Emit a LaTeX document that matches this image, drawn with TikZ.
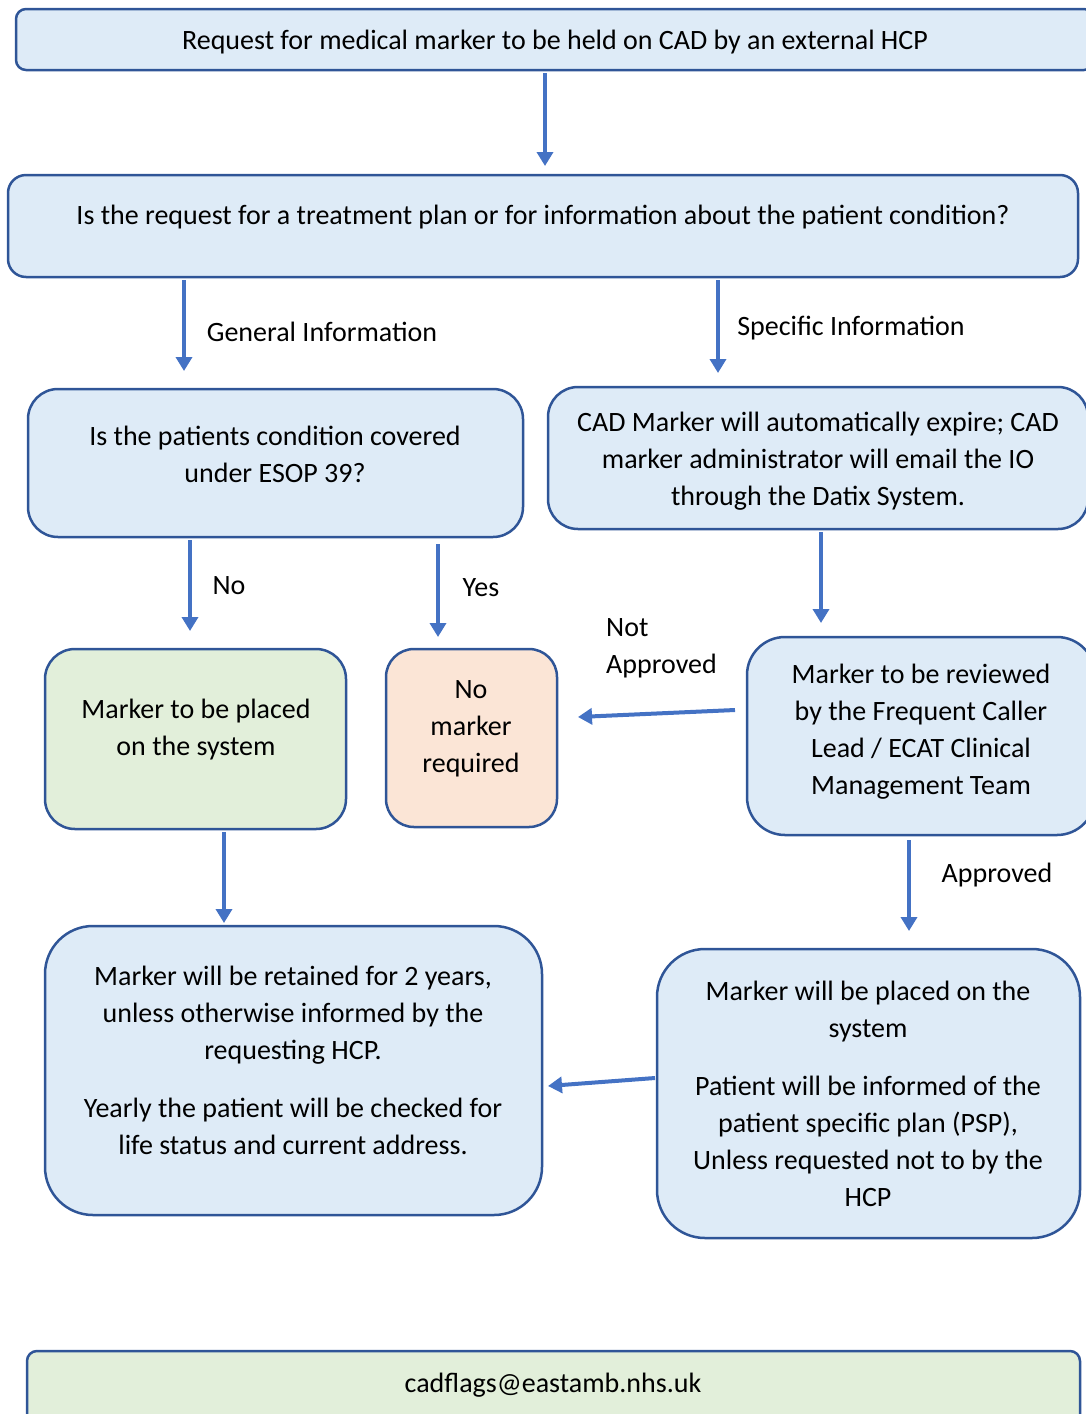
\documentclass[tikz,border=0pt]{standalone}
\usepackage{fontspec}
\setmainfont{Carlito}
\usetikzlibrary{arrows.meta}
\definecolor{boxblue}{HTML}{DEEBF7}
\definecolor{boxgreen}{HTML}{E2EFDA}
\definecolor{boxpeach}{HTML}{FBE5D6}
\definecolor{edgeblue}{HTML}{2F5597}
\definecolor{arrowblue}{HTML}{4472C4}
\tikzset{
  box/.style={draw=edgeblue, line width=2.5pt, fill=boxblue, inner sep=0pt, rectangle},
  txt/.style={align=center, inner sep=0pt, font=\fontsize{28}{37}\selectfont},
  lbl/.style={inner sep=0pt, font=\fontsize{28}{37}\selectfont},
  arr/.style={draw=arrowblue, line width=4pt, -{Triangle[length=14pt,width=16pt]}},
}
\begin{document}
\begin{tikzpicture}[x=1pt,y=-1pt]
\useasboundingbox (0,0) rectangle (1086,1414);
\clip (0,0) rectangle (1086,1414);
% boxes
\node[box, rounded corners=10pt, minimum width=1078pt, minimum height=61pt] (b1) at (555,39.5) {};
\node[box, rounded corners=18pt, minimum width=1070pt, minimum height=102pt] (b2) at (543,226) {};
\node[box, rounded corners=30pt, minimum width=495pt, minimum height=148pt] (b3) at (275.5,463) {};
\node[box, rounded corners=30pt, minimum width=540pt, minimum height=142pt] (b4) at (818,458) {};
\node[box, fill=boxgreen, rounded corners=30pt, minimum width=301pt, minimum height=180pt] (b5) at (195.5,739) {};
\node[box, fill=boxpeach, rounded corners=28pt, minimum width=171pt, minimum height=178pt] (b6) at (471.5,738) {};
\node[box, rounded corners=38pt, minimum width=348pt, minimum height=198pt] (b7) at (921,736) {};
\node[box, rounded corners=48pt, minimum width=497pt, minimum height=289pt] (b8) at (293.5,1070.5) {};
\node[box, rounded corners=48pt, minimum width=423pt, minimum height=289pt] (b9) at (868.5,1093.5) {};
\node[box, fill=boxgreen, rounded corners=10pt, minimum width=1053pt, minimum height=89pt] (b10) at (553.5,1395.5) {};
% texts
\node[txt] (t1) at (555,42) {Request for medical marker to be held on CAD by an external HCP};
\node[txt] (t2) at (543,217) {Is the request for a treatment plan or for information about the patient condition?};
\node[txt] (t3) at (275,454) {Is the patients condition covered\\under ESOP 39?};
\node[txt] (t4) at (818,461) {CAD Marker will automatically expire; CAD\\marker administrator will email the IO\\through the Datix System.};
\node[txt] (t5) at (196,730) {Marker to be placed\\on the system};
\node[txt] (t6) at (471,729) {No\\marker\\required};
\node[txt] (t7) at (921,732) {Marker to be reviewed\\by the Frequent Caller\\Lead / ECAT Clinical\\Management Team};
\node[txt] (t8) at (293,1060) {Marker will be retained for 2 years,\\unless otherwise informed by the\\requesting HCP.\\[21pt]Yearly the patient will be checked for\\life status and current address.};
\node[txt] (t9) at (868,1093.5) {Marker will be placed on the\\system\\[21pt]Patient will be informed of the\\patient specific plan (PSP),\\Unless requested not to by the\\HCP};
\node[txt] (t10) at (553,1385) {cadflags@eastamb.nhs.uk};
% labels
\node[lbl] (l1) at (322,332) {General Information};
\node[lbl] (l2) at (851,328) {Specific Information};
\node[lbl] (l3) at (229,586) {No};
\node[lbl] (l4) at (481,588) {Yes};
\node[lbl, align=left, anchor=west] (l5) at (606,648.5) {Not\\Approved};
\node[lbl] (l6) at (997,875) {Approved};
% arrow end points
\coordinate (a1s) at (545,73);   \coordinate (a1e) at (545,166);
\coordinate (a2s) at (184,280);  \coordinate (a2e) at (184,371);
\coordinate (a3s) at (718,280);  \coordinate (a3e) at (718,373);
\coordinate (a4s) at (190,540);  \coordinate (a4e) at (190,631);
\coordinate (a5s) at (438,544);  \coordinate (a5e) at (438,637);
\coordinate (a6s) at (821,532);  \coordinate (a6e) at (821,623);
\coordinate (a7s) at (735,710);  \coordinate (a7e) at (578,717);
\coordinate (a8s) at (224,832);  \coordinate (a8e) at (224,923);
\coordinate (a9s) at (909,840);  \coordinate (a9e) at (909,931);
\coordinate (a10s) at (655,1078); \coordinate (a10e) at (548,1086);
% arrows
\draw[arr] (a1s) -- (a1e);
\draw[arr] (a2s) -- (a2e);
\draw[arr] (a3s) -- (a3e);
\draw[arr] (a4s) -- (a4e);
\draw[arr] (a5s) -- (a5e);
\draw[arr] (a6s) -- (a6e);
\draw[arr] (a7s) -- (a7e);
\draw[arr] (a8s) -- (a8e);
\draw[arr] (a9s) -- (a9e);
\draw[arr] (a10s) -- (a10e);
\end{tikzpicture}
\end{document}
